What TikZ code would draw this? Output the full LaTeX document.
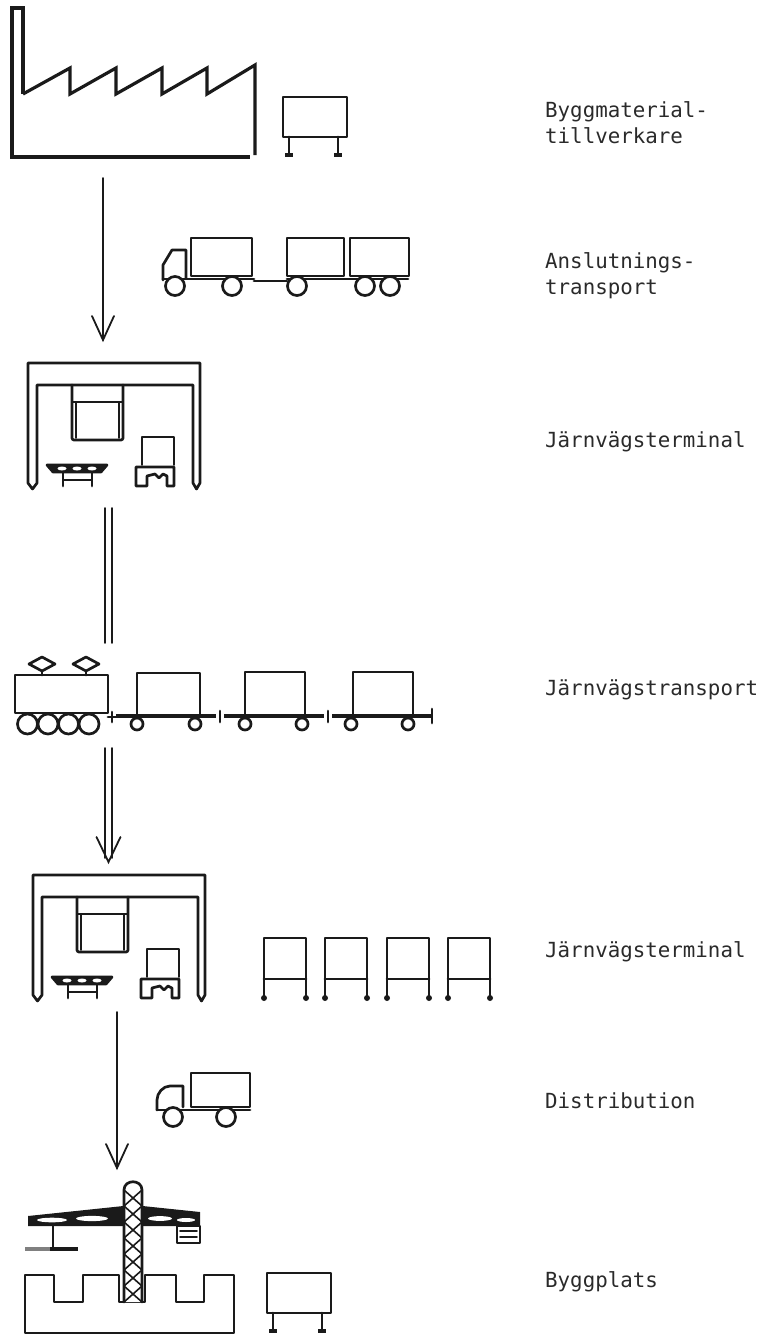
\documentclass[tikz,border=0pt]{standalone}
\usepackage{fontspec}
\usetikzlibrary{calc}
\newfontfamily\labelfont{DejaVu Sans Mono}
\definecolor{inkc}{HTML}{1A1A1A}
\definecolor{textc}{HTML}{2A2A2A}
\begin{document}
\begin{tikzpicture}[x=1pt,y=-1pt,
  heavy/.style={line width=3.2pt, draw=inkc, line join=miter, line cap=butt},
  ink/.style={line width=2.7pt, draw=inkc, line join=round, line cap=round},
  fine/.style={line width=1.6pt, draw=inkc, line join=round, line cap=round},
  flow/.style={line width=1.8pt, draw=inkc, line cap=round, line join=miter},
  lbl/.style={anchor=base west, inner sep=0pt, text=textc,
    font=\labelfont\fontsize{20.8}{26}\selectfont},
  % pallet stand: box on two legs, origin at top-left of the box
  stand/.pic={
    \draw[ink] (0,0) rectangle (64,40);
    \draw[ink] (6,40) -- (6,57) (55,40) -- (55,57);
    \draw[line width=4pt, draw=inkc] (2,57.5) -- (10,57.5) (51,57.5) -- (59,57.5);
  },
  % open rack of the terminal, origin at top-left
  rack/.pic={
    \draw[ink] (0,60) -- (0,0) -- (42,0) -- (42,60);
    \draw[ink] (0,41) -- (42,41);
    \fill[inkc] (0,60) circle (3) (42,60) circle (3);
  },
  % rail terminal with gantry crane, origin at outer top-left
  terminal/.pic={
    \draw[ink] (4.5,126) -- (0,120) -- (0,0) -- (172,0) -- (172,120) -- (168.5,126)
      -- (165,120) -- (165,22) -- (9,22) -- (9,120) -- cycle;
    % container under the spreader
    \draw[ink, rounded corners=2pt] (44,22) -- (44,77) -- (95,77) -- (95,22);
    \draw[fine] (44,39) -- (95,39);
    \draw[fine] (48,39) -- (48,75) (91,39) -- (91,75);
    % rail wagon
    \draw[ink, fill=inkc] (19,102) -- (79,102) -- (73,109) -- (25,109) -- cycle;
    \fill[white] (34,105.5) ellipse (4.5 and 2) (49,105.5) ellipse (4.5 and 2) (64,105.5) ellipse (4.5 and 2);
    \draw[ink] (35,109) -- (35,123) (64,109) -- (64,123);
    \draw[fine] (35,117) -- (64,117);
    % lorry with load
    \draw[fine] (114,102) -- (114,74) -- (146,74) -- (146,102);
    \draw[ink] (108,104) -- (146,104) -- (146,123) -- (139,123) -- (139,113) -- (135,111)
      -- (131,115) -- (127,111) -- (119,113) -- (119,123) -- (108,123) -- cycle;
  }
]
\useasboundingbox (0,0) rectangle (770,1339);

% ---------- building material factory ----------
\draw[heavy] (23,94) -- (23,8) -- (12,8) -- (12,157) -- (250,157);
\draw[heavy] (23,94) -- (70,68) -- (70,94) -- (116,68) -- (116,94) -- (162,68) -- (162,94)
  -- (207,68) -- (207,94) -- (255,65) -- (255,155);
\pic at (283,97) {stand};
\node[lbl] (l1) at (545,117) {\begin{tabular}[t]{@{}l@{}}Byggmaterial-\\tillverkare\end{tabular}};

% ---------- feeder transport: lorry with trailer ----------
\draw[ink] (163,280) -- (163,265) -- (172,250) -- (186,250) -- (186,278);
\draw[ink] (191,238) rectangle (252,276);
\draw[ink] (163,279) -- (254,279);
\draw[ink] (254,281) -- (287,281);
\draw[ink] (287,279) -- (408,279);
\draw[ink] (287,238) rectangle (344,276);
\draw[ink] (350,238) rectangle (409,276);
\foreach \cx in {175,232,297,365,390}
  \draw[ink, fill=white] (\cx,286) circle (9.5);
\node[lbl] (l2) at (545,268) {\begin{tabular}[t]{@{}l@{}}Anslutnings-\\transport\end{tabular}};

% ---------- flow: factory to terminal ----------
\coordinate (f1a) at (103,178);
\coordinate (f1b) at (103,340);
\draw[flow] (f1a) -- (f1b);
\draw[flow] ($(f1b)+(-11,-24)$) -- (f1b) -- ($(f1b)+(11,-24)$);

% ---------- first rail terminal ----------
\pic at (28,363) {terminal};
\node[lbl] (l3) at (545,447) {Järnvägsterminal};

% ---------- track to the train ----------
\draw[flow] (105,508) -- (105,643) (112,508) -- (112,643);

% ---------- rail transport ----------
\draw[ink] (15,675) rectangle (108,713);
\foreach \px in {42,86}{
  \draw[ink] (\px-13,664) -- (\px,657) -- (\px+13,664) -- (\px,671) -- cycle;
  \draw[ink] (\px,671) -- (\px,675);
}
\foreach \cx in {27.5,48,68.5,89}
  \draw[ink, fill=white] (\cx,724) circle (10);
\draw[ink] (108,717) -- (116,717) (112,712) -- (112,722);
\foreach \a/\b in {116/216, 224/324, 332/431}
  \draw[line width=4pt, draw=inkc] (\a,716) -- (\b,716);
\draw[ink] (220,711) -- (220,722) (328,711) -- (328,722) (432,709) -- (432,723);
\draw[ink] (137,715) -- (137,673) -- (200,673) -- (200,715);
\draw[ink] (245,714) -- (245,672) -- (305,672) -- (305,714);
\draw[ink] (353,714) -- (353,672) -- (413,672) -- (413,714);
\foreach \cx in {137,195,245,302,351,408}
  \draw[ink, fill=white] (\cx,724) circle (6);
\node[lbl] (l4) at (545,695) {Järnvägstransport};

% ---------- flow: train to second terminal ----------
\draw[flow] (105,748) -- (105,858) (112,748) -- (112,858);
\coordinate (f2b) at (108.5,862);
\draw[flow] ($(f2b)+(-12,-25)$) -- (f2b) -- ($(f2b)+(12,-25)$);

% ---------- second rail terminal with racks ----------
\pic at (33,875) {terminal};
\foreach \rx in {264,325,387,448}
  \pic at (\rx,938) {rack};
\node[lbl] (l5) at (545,957) {Järnvägsterminal};

% ---------- flow: terminal to building site ----------
\coordinate (f3a) at (117,1012);
\coordinate (f3b) at (117,1168);
\draw[flow] (f3a) -- (f3b);
\draw[flow] ($(f3b)+(-11,-24)$) -- (f3b) -- ($(f3b)+(11,-24)$);

% ---------- distribution lorry ----------
\draw[ink] (157,1110) -- (157,1100) .. controls (157,1093) and (163,1086) .. (170,1086) -- (183,1086) -- (183,1107);
\draw[ink] (191,1073) rectangle (250,1107);
\draw[ink] (157,1110) -- (250,1110);
\foreach \cx in {173,226}
  \draw[ink, fill=white] (\cx,1117) circle (9.5);
\node[lbl] (l6) at (545,1108) {Distribution};

% ---------- building site with tower crane ----------
\draw[ink] (25,1275) -- (54,1275) -- (54,1302) -- (83,1302) -- (83,1275) -- (119,1275)
  -- (119,1302) -- (145,1302) -- (145,1275) -- (176,1275) -- (176,1302) -- (204,1302)
  -- (204,1275) -- (234,1275) -- (234,1333) -- (25,1333) -- cycle;
% jib and counter-jib: dark truss band with open panels
\fill[inkc] (28,1216) -- (133,1205) -- (200,1212) -- (200,1226) -- (28,1226) -- cycle;
\fill[white] (52,1220) ellipse (15 and 2.3) (92,1218.5) ellipse (16 and 2.6)
  (160,1218.5) ellipse (12 and 2.4) (186,1220) ellipse (9 and 2);
% tower mast with lattice
\draw[ink, fill=white] (124,1302) -- (124,1190) .. controls (124,1179) and (142,1179) .. (142,1190) -- (142,1302);
\foreach \yy in {1190,1206,...,1286}
  \draw[fine] (124,\yy) -- (142,\yy+16) (142,\yy) -- (124,\yy+16);
\draw[ink] (53,1226) -- (53,1247);
\draw[line width=4.5pt, draw=gray] (25,1249) -- (50,1249);
\draw[line width=4.5pt, draw=inkc] (50,1249) -- (78,1249);
\draw[ink] (177,1226) rectangle (200,1243);
\draw[fine] (180,1231) -- (197,1231) (180,1237) -- (197,1237);
\pic at (267,1273) {stand};
\node[lbl] (l7) at (545,1287) {Byggplats};
\end{tikzpicture}
\end{document}
